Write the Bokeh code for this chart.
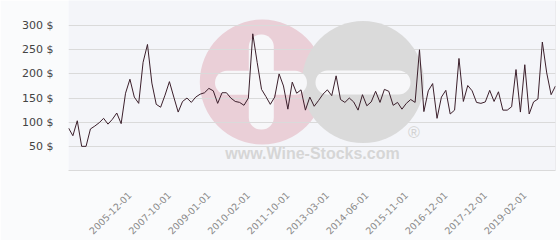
from bokeh.plotting import figure
from bokeh.models import Range1d, FixedTicker, BoxAnnotation
from bokeh.embed import file_html
from bokeh.resources import INLINE
from bokeh.core.properties import value
import math

# ---- data ----
prices = [88, 72, 103, 50, 50, 86, 92, 99, 108, 96,
          106, 119, 97, 160, 189, 152, 139, 224, 261, 181,
          137, 131, 156, 184, 152, 121, 143, 150, 141, 152,
          158, 161, 170, 165, 139, 161, 161, 150, 143, 141,
          135, 150, 283, 224, 168, 153, 137, 152, 200, 175,
          127, 183, 160, 167, 125, 152, 133, 145, 158, 167,
          155, 196, 147, 141, 150, 142, 125, 157, 134, 142,
          164, 141, 168, 164, 135, 141, 127, 139, 147, 141,
          250, 122, 165, 180, 108, 152, 166, 117, 125, 232,
          143, 176, 165, 141, 139, 142, 166, 143, 163, 125,
          125, 132, 209, 121, 219, 117, 142, 148, 266, 202,
          157, 175]
idx = list(range(len(prices)))

tick_positions = [14, 23, 32, 41, 50, 59, 68, 77, 86, 95, 104]
tick_labels = ["2005-12-01", "2007-10-01", "2009-01-01", "2010-02-01",
               "2011-10-01", "2013-03-01", "2014-06-01", "2015-11-01",
               "2016-12-01", "2017-12-01", "2019-02-01"]
y_ticks = [0, 50, 100, 150, 200, 250, 300]

p = figure(width=560, height=240, output_backend="svg", toolbar_location=None,
           x_range=Range1d(0, len(prices) - 1), y_range=Range1d(0, 352),
           min_border_left=68, min_border_right=5, min_border_top=0,
           min_border_bottom=61)
p.background_fill_color = "#f4f5f9"
p.border_fill_color = "#fafbfc"
p.outline_line_color = None

# left grey panel and right border
p.add_layout(BoxAnnotation(left=0, right=63, top=0, bottom=240,
                           left_units="canvas", right_units="canvas",
                           top_units="canvas", bottom_units="canvas",
                           fill_color="#e6e9ec", fill_alpha=1, line_color=None,
                           level="underlay"))
p.add_layout(BoxAnnotation(left=555, right=557, top=0, bottom=240,
                           left_units="canvas", right_units="canvas",
                           top_units="canvas", bottom_units="canvas",
                           fill_color="#c4c4c4", fill_alpha=1, line_color=None,
                           level="underlay"))

# ---- watermark (decoration) ----
def dx(px):
    return (px - 68) / (487 / (len(prices) - 1))

def dy(py):
    return (178.7 - py) / (178.7 / 352)

p.circle([dx(261.8)], [dy(85.8)], radius=62.5, radius_units="screen",
         fill_color="#eacfd7", line_color=None, level="image")
p.circle([dx(362.5)], [dy(85.8)], radius=61, radius_units="screen",
         fill_color="#dadada", line_color=None, level="image")
p.rect([dx(260.8)], [dy(85.8)], width=25, height=95, width_units="screen",
       height_units="screen", fill_color="#f7f7f9", line_color=None,
       border_radius=12, level="image")
p.rect([dx(260.5)], [dy(86.5)], width=92, height=24, width_units="screen",
       height_units="screen", fill_color="#f7f7f9", line_color=None,
       border_radius=12, level="image")
p.rect([dx(362.5)], [dy(86.3)], width=95, height=24, width_units="screen",
       height_units="screen", fill_color="#f7f7f9", line_color=None,
       border_radius=12, level="image")
p.text([dx(312)], [dy(161)], text=["www.Wine-Stocks.com"],
       text_font=value("Liberation Sans"), text_font_size="16px",
       text_font_style="bold", text_color="#d6d6d6", text_align="center",
       text_baseline="middle", level="image")
p.text([dx(413.5)], [dy(139)], text=["®"],
       text_font=value("Liberation Sans"), text_font_size="16px",
       text_color="#d2d2d2", text_align="center",
       text_baseline="middle", level="image")

# ---- data line ----
p.line(idx, prices, line_color="#3b1f2b", line_width=1)

# ---- axes ----
p.xgrid.visible = False
p.ygrid.grid_line_color = "#dadada"
p.ygrid.ticker = FixedTicker(ticks=y_ticks)

p.yaxis.ticker = FixedTicker(ticks=y_ticks)
p.yaxis.major_label_overrides = {v: ("" if v == 0 else f"{v} $") for v in y_ticks}
p.yaxis.axis_line_color = None
p.yaxis.major_tick_line_color = None
p.yaxis.minor_tick_line_color = None
p.yaxis.major_label_standoff = 9
p.yaxis.major_label_text_font = "DejaVu Sans"
p.yaxis.major_label_text_font_size = "11px"
p.yaxis.major_label_text_color = "#444444"

p.xaxis.ticker = FixedTicker(ticks=tick_positions)
p.xaxis.major_label_overrides = dict(zip(tick_positions, tick_labels))
p.xaxis.major_label_orientation = math.pi / 4
p.xaxis.axis_line_color = "#dadada"
p.xaxis.major_tick_line_color = None
p.xaxis.minor_tick_line_color = None
p.xaxis.major_label_standoff = 17
p.xaxis.major_label_text_font = "DejaVu Sans"
p.xaxis.major_label_text_font_size = "9.5px"
p.xaxis.major_label_text_color = "#8a8a8a"

open("out.html", "w").write(file_html(p, INLINE))
